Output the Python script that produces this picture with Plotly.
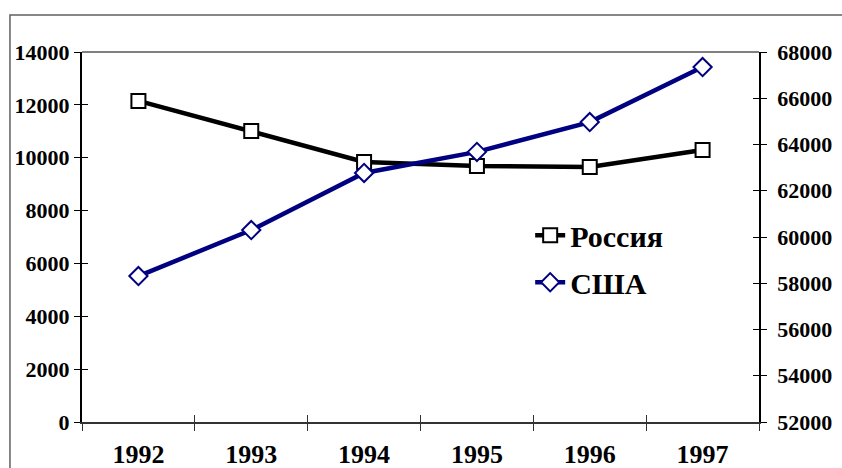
import plotly.graph_objects as go

years = ["1992", "1993", "1994", "1995", "1996", "1997"]
russia = [12150, 11010, 9840, 9690, 9650, 10290]
usa = [58310, 60300, 62770, 63680, 64970, 67350]

left_ticks = [0, 2000, 4000, 6000, 8000, 10000, 12000, 14000]
right_ticks = [52000, 54000, 56000, 58000, 60000, 62000, 64000, 66000, 68000]

FONT = "Liberation Serif"
y_font = dict(family=FONT, size=22, color="black", weight="bold")
x_font = dict(family=FONT, size=26, color="black", weight="bold")

fig = go.Figure()

# main series
fig.add_trace(go.Scatter(
    x=years, y=russia, name="Россия", mode="lines+markers",
    line=dict(color="black", width=4.5), legendgroup="ru",
    marker=dict(symbol="square", size=14, color="white",
                line=dict(color="black", width=2)),
    xaxis="x", yaxis="y",
))
fig.add_trace(go.Scatter(
    x=years, y=usa, name="США", mode="lines+markers",
    line=dict(color="#000080", width=4.5), legendgroup="us",
    marker=dict(symbol="diamond", size=14, color="white",
                line=dict(color="#000080", width=2)),
    xaxis="x", yaxis="y2",
))

# invisible helpers so the overlay axes draw the inner half of the cross ticks
fig.add_trace(go.Scatter(x=years, y=russia, mode="lines", line=dict(width=0),
                         showlegend=False, hoverinfo="skip",
                         xaxis="x2", yaxis="y3"))
fig.add_trace(go.Scatter(x=years, y=usa, mode="lines", line=dict(width=0),
                         showlegend=False, hoverinfo="skip",
                         xaxis="x2", yaxis="y4"))

cat_range = [-0.5, len(years) - 0.5]

fig.update_layout(
    width=842, height=468,
    margin=dict(l=82, r=83, t=52, b=46),
    paper_bgcolor="white", plot_bgcolor="white",
    showlegend=True,
    legend=dict(x=0.662, y=0.575, xanchor="left", yanchor="top",
                font=dict(family=FONT, size=30, color="black", weight="bold"),
                bgcolor="rgba(0,0,0,0)", tracegroupgap=5),
    xaxis=dict(
        type="category", range=cat_range, tickson="boundaries",
        ticks="outside", ticklen=7, tickwidth=1, tickcolor="#333333",
        showline=True, linecolor="#333333", linewidth=2,
        showgrid=False, zeroline=False, tickfont=x_font,
        ticklabelstandoff=8, automargin=False,
    ),
    xaxis2=dict(
        type="category", range=cat_range, tickson="boundaries",
        overlaying="x", anchor="y", side="bottom",
        ticks="inside", ticklen=7, tickwidth=1, tickcolor="#333333",
        showticklabels=False, showline=False, showgrid=False, zeroline=False,
    ),
    yaxis=dict(
        range=[0, 14000], tickvals=left_ticks,
        ticktext=[str(v) for v in left_ticks],
        ticks="outside", ticklen=6, tickwidth=1, tickcolor="black",
        showline=True, linecolor="black", linewidth=2,
        showgrid=False, zeroline=False, tickfont=y_font,
        ticklabelstandoff=0, automargin=False,
    ),
    yaxis2=dict(
        range=[52000, 68000], tickvals=right_ticks,
        ticktext=[str(v) for v in right_ticks],
        overlaying="y", side="right", anchor="x",
        ticks="outside", ticklen=6, tickwidth=1, tickcolor="black",
        showline=True, linecolor="black", linewidth=1.5,
        showgrid=False, zeroline=False, tickfont=y_font,
        ticklabelstandoff=6, automargin=False,
    ),
    yaxis3=dict(
        range=[0, 14000], tickvals=left_ticks, overlaying="y", side="left",
        anchor="x2", ticks="inside", ticklen=6, tickwidth=1, tickcolor="black",
        showticklabels=False, showline=False, showgrid=False, zeroline=False,
    ),
    yaxis4=dict(
        range=[52000, 68000], tickvals=right_ticks, overlaying="y", side="right",
        anchor="x2", ticks="inside", ticklen=6, tickwidth=1, tickcolor="black",
        showticklabels=False, showline=False, showgrid=False, zeroline=False,
    ),
    shapes=[
        # grey plot-area border along the top
        dict(type="line", xref="paper", yref="paper", x0=0, x1=1, y0=1, y1=1,
             line=dict(color="#808080", width=2), layer="below"),
        # outer chart frame
        dict(type="rect", xref="paper", yref="paper",
             x0=-0.1064, x1=1.14, y0=-0.15, y1=1.1,
             line=dict(color="#606060", width=1.5), layer="below"),
    ],
)

# page has an 8px body margin by default; drop it so the figure sits at 0,0
fig.write_html("out.html", config={"displayModeBar": False},
               post_script="document.body.style.margin='0';")
